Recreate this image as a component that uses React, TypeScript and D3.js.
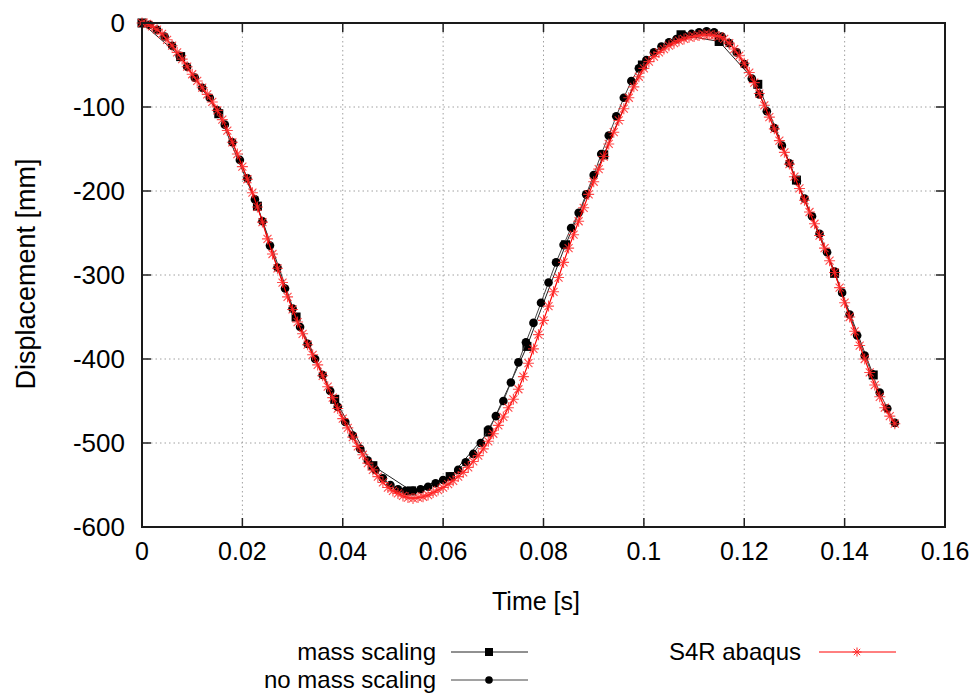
import React from "react";
import * as d3 from "d3";

// time axis [s] and displacement [mm]
const xTicks = [0, 0.02, 0.04, 0.06, 0.08, 0.1, 0.12, 0.14, 0.16];
const yTicks = [0, -100, -200, -300, -400, -500, -600];

// mass scaling (sparse output)
const massTime = [0, 0.0077, 0.0153, 0.023, 0.0307, 0.0384, 0.046, 0.0537, 0.0614, 0.069, 0.0767,
  0.0844, 0.092, 0.0997, 0.1074, 0.115, 0.1227, 0.1304, 0.138, 0.1457];
const massDisp = [0, -40, -108, -218, -350, -448, -527, -557, -540, -487, -385,
  -264, -157, -50, -14, -22, -73, -187, -298, -419];

// no mass scaling, output every 1.5 ms
const noMassStep = 0.0015;
const noMassDisp = [
  0, -2, -8, -16, -27, -39, -52, -65, -77, -89,
  -104, -121, -142, -163, -185, -210, -236, -265, -291, -316,
  -340, -362, -382, -400, -419, -438, -457, -475, -491, -507,
  -521, -532, -542, -550, -555, -557, -557, -555, -552, -548,
  -544, -540, -532, -523, -513, -500, -484, -468, -450, -428,
  -404, -380, -357, -333, -309, -285, -264, -244, -226, -204,
  -181, -156, -134, -111, -89, -69, -54, -44, -35, -28,
  -23, -19, -15, -13, -11, -10, -11, -16, -24, -35,
  -49, -66, -85, -105, -125, -146, -167, -188, -209, -230,
  -251, -273, -296, -321, -347, -372, -396, -418, -440, -459,
  -476,
];

// S4R abaqus, output every 1 ms
const abaqusStep = 0.001;
const abaqusDisp = [
  0, -1, -4, -8, -13, -20, -27, -35, -43, -52,
  -61, -69, -77, -85, -94, -104, -115, -128, -142, -156,
  -171, -186, -202, -219, -237, -257, -275, -292, -309, -326,
  -341, -356, -370, -383, -395, -407, -420, -433, -446, -459,
  -471, -482, -493, -504, -514, -524, -532, -540, -547, -553,
  -557, -560, -563, -565, -566, -565, -564, -562, -559, -556,
  -553, -549, -545, -540, -535, -529, -522, -515, -507, -498,
  -489, -479, -469, -458, -448, -436, -421, -405, -388, -371,
  -354, -337, -320, -303, -285, -268, -252, -236, -220, -204,
  -189, -174, -159, -144, -130, -116, -102, -89, -76, -64,
  -54, -46, -40, -35, -31, -27, -24, -21, -19, -17,
  -16, -15, -14, -14, -15, -16, -19, -24, -31, -39,
  -48, -59, -71, -84, -98, -112, -126, -140, -154, -168,
  -183, -197, -211, -225, -239, -253, -268, -283, -297, -315,
  -333, -350, -367, -384, -400, -416, -431, -445, -458, -468,
  -477,
];

const width = 980;
const height = 694;
const left = 142, right = 945, top = 23, bottom = 527;
const font = "'Liberation Sans', Arial, sans-serif";

const asterisk = "M-5.5,0H5.5M0,-5.5V5.5M-4,-4L4,4M-4,4L4,-4";

export default function App() {
  const x = d3.scaleLinear().domain([0, 0.16]).range([left, right]);
  const y = d3.scaleLinear().domain([-600, 0]).range([bottom, top]);

  const mass = massTime.map((t, i) => [t, massDisp[i]]);
  const noMass = noMassDisp.map((d, i) => [i * noMassStep, d]);
  const abaqus = abaqusDisp.map((d, i) => [i * abaqusStep, d]);

  const line = d3.line().x(d => x(d[0])).y(d => y(d[1]));
  const xFmt = d3.format("~g");

  return (
    <svg width={width} height={height} style={{ position: "absolute", left: 0, top: 0, background: "#fff" }}
      fontFamily={font}>
      {/* grid */}
      <g stroke="#a0a0a0" strokeWidth={1} strokeDasharray="1.5,3">
        {xTicks.slice(1, -1).map(t => (
          <line key={"gx" + t} x1={x(t)} x2={x(t)} y1={top} y2={bottom} />
        ))}
        {yTicks.slice(1, -1).map(t => (
          <line key={"gy" + t} x1={left} x2={right} y1={y(t)} y2={y(t)} />
        ))}
      </g>

      {/* ticks on all four sides, pointing inward */}
      <g stroke="#222" strokeWidth={1.5}>
        {xTicks.map(t => (
          <g key={"tx" + t}>
            <line x1={x(t)} x2={x(t)} y1={bottom} y2={bottom - 9} />
            <line x1={x(t)} x2={x(t)} y1={top} y2={top + 9} />
          </g>
        ))}
        {yTicks.map(t => (
          <g key={"ty" + t}>
            <line x1={left} x2={left + 9} y1={y(t)} y2={y(t)} />
            <line x1={right} x2={right - 9} y1={y(t)} y2={y(t)} />
          </g>
        ))}
      </g>

      {/* series */}
      <path d={line(mass)} fill="none" stroke="#222" strokeWidth={1} />
      {mass.map((d, i) => (
        <rect key={"m" + i} x={x(d[0]) - 4.5} y={y(d[1]) - 4.5} width={9} height={9} fill="#000" />
      ))}
      <path d={line(noMass)} fill="none" stroke="#444" strokeWidth={1} />
      {noMass.map((d, i) => (
        <circle key={"n" + i} cx={x(d[0])} cy={y(d[1])} r={4.3} fill="#000" />
      ))}
      <path d={line(abaqus)} fill="none" stroke="#ff0000" strokeWidth={1.2} />
      <g stroke="#ff2a2a" strokeWidth={1.1} strokeOpacity={0.85} fill="none">
        {abaqus.map((d, i) => (
          <path key={"a" + i} d={asterisk} transform={`translate(${x(d[0])},${y(d[1])})`} />
        ))}
      </g>

      {/* frame */}
      <rect x={left} y={top} width={right - left} height={bottom - top} fill="none" stroke="#1a1a1a" strokeWidth={2} />

      {/* tick labels */}
      <g fontSize={25} fill="#000">
        {xTicks.map(t => (
          <text key={"lx" + t} x={x(t)} y={560} textAnchor="middle">{xFmt(t)}</text>
        ))}
        {yTicks.map(t => (
          <text key={"ly" + t} x={125} y={y(t)} dy="0.36em" textAnchor="end" fontSize={26}>{String(t)}</text>
        ))}
      </g>

      {/* axis titles */}
      <text x={536} y={610} fontSize={25} textAnchor="middle">Time [s]</text>
      <text transform="translate(35,274) rotate(-90)" fontSize={27} textAnchor="middle">Displacement [mm]</text>

      {/* legend */}
      <g fontSize={24}>
        <text x={436} y={660} textAnchor="end">mass scaling</text>
        <line x1={451} x2={528} y1={652} y2={652} stroke="#222" strokeWidth={1} />
        <rect x={485} y={648} width={8} height={8} fill="#000" />

        <text x={436} y={688} textAnchor="end">no mass scaling</text>
        <line x1={451} x2={528} y1={680} y2={680} stroke="#444" strokeWidth={1} />
        <circle cx={489} cy={680} r={3.8} fill="#000" />

        <text x={801} y={660} textAnchor="end">S4R abaqus</text>
        <line x1={819} x2={896} y1={652} y2={652} stroke="#ff0000" strokeWidth={1} />
        <path d="M-4.5,0H4.5M0,-4.5V4.5M-3.2,-3.2L3.2,3.2M-3.2,3.2L3.2,-3.2" transform="translate(857,652)"
          stroke="#ff2a2a" strokeWidth={1} fill="none" />
      </g>
    </svg>
  );
}
